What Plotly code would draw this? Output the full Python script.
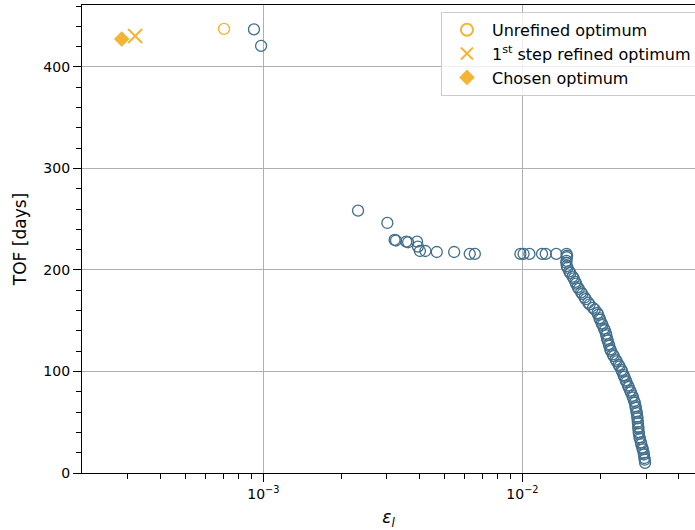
import plotly.graph_objects as go

# Pareto front of the optimisation: error eps_l vs time of flight
front_eps = [
    9.2e-4, 9.8e-4, 2.32e-3, 3.01e-3, 3.21e-3, 3.25e-3, 3.56e-3, 3.62e-3, 3.92e-3, 3.95e-3,
    4.02e-3, 4.22e-3, 4.67e-3, 5.45e-3, 6.26e-3, 6.55e-3, 9.82e-3, 1.01e-2, 1.064e-2, 1.19e-2,
    1.23e-2, 1.35e-2, 1.48e-2,
    0.014866, 0.01484, 0.01479, 0.01476, 0.01483, 0.01493, 0.01517, 0.01531, 0.01562, 0.01578,
    0.01600, 0.01610, 0.01634, 0.01651, 0.01685, 0.01702, 0.01737, 0.01754, 0.01795, 0.01816,
    0.01872, 0.01902, 0.01948, 0.01960, 0.01983, 0.01995, 0.02022, 0.02037, 0.02064, 0.02080,
    0.02101, 0.02108, 0.02123, 0.02133, 0.02154, 0.02163, 0.02185, 0.02194, 0.02232, 0.02252,
    0.02290, 0.02311, 0.02352, 0.02371, 0.02411, 0.02426, 0.02457, 0.02474, 0.02505, 0.02521,
    0.02555, 0.02571, 0.02605, 0.02623, 0.02657, 0.02671, 0.02699, 0.02714, 0.02731, 0.02738,
    0.02755, 0.02762, 0.02775, 0.02780, 0.02787, 0.02792, 0.02800, 0.02802, 0.02810, 0.02815,
    0.02830, 0.02842, 0.02865, 0.02875, 0.02901, 0.02914, 0.02937, 0.02943, 0.02956, 0.02964,
    0.02974,
]
front_tof = [
    437.0, 420.7, 258.4, 246.3, 229.6, 229.0, 227.9, 227.3, 227.9, 223.0,
    218.7, 218.7, 217.7, 217.7, 215.8, 215.8, 215.8, 215.8, 215.8, 215.8,
    215.8, 215.8, 215.8,
    214.0, 212.5, 208.9, 207.1, 203.8, 202.0, 198.6, 196.8, 193.5, 191.7,
    188.2, 186.6, 183.1, 181.4, 178.0, 176.3, 172.9, 171.2, 167.8, 166.1,
    162.7, 161.0, 157.6, 155.9, 152.5, 150.8, 147.4, 145.7, 142.3, 140.6,
    137.2, 135.5, 132.1, 130.4, 127.0, 125.3, 121.9, 120.2, 116.8, 115.1,
    111.7, 110.0, 106.6, 104.9, 101.5, 99.8, 96.4, 94.7, 91.3, 89.6,
    86.2, 84.5, 81.1, 79.4, 76.0, 74.3, 70.9, 69.2, 65.8, 64.1,
    60.7, 59.0, 55.6, 53.9, 50.5, 48.8, 45.4, 43.7, 40.3, 38.6,
    35.2, 33.5, 30.1, 28.4, 25.0, 23.3, 19.9, 18.2, 14.8, 13.1,
    10.0,
]

# Highlighted optima
unrefined_eps, unrefined_tof = [7.05e-4], [437.5]
refined_eps, refined_tof = [3.2e-4], [430.5]
chosen_eps, chosen_tof = [2.84e-4], [427.5]

x_tick_vals = [1e-3, 1e-2]
x_tick_text = ["10<sup>\u22123</sup>", "10<sup>\u22122</sup>"]
x_minor_vals = [3e-4, 4e-4, 5e-4, 6e-4, 7e-4, 8e-4, 9e-4,
                2e-3, 3e-3, 4e-3, 5e-3, 6e-3, 7e-3, 8e-3, 9e-3,
                2e-2, 3e-2, 4e-2]

BLUE = "#416F8C"
ORANGE = "#F6B433"
FONT = "DejaVu Sans"

fig = go.Figure()

fig.add_trace(go.Scatter(
    x=front_eps, y=front_tof, mode="markers", showlegend=False,
    marker=dict(symbol="circle-open", size=11, color=BLUE, line=dict(width=1.3)),
))
fig.add_trace(go.Scatter(
    x=unrefined_eps, y=unrefined_tof, mode="markers", name="Unrefined optimum",
    marker=dict(symbol="circle-open", size=11, color=ORANGE, line=dict(width=1.4)),
))
fig.add_trace(go.Scatter(
    x=refined_eps, y=refined_tof, mode="markers", name="1<sup>st</sup> step refined optimum",
    marker=dict(symbol="x-thin", size=14, color=ORANGE, line=dict(width=2, color=ORANGE)),
))
fig.add_trace(go.Scatter(
    x=chosen_eps, y=chosen_tof, mode="markers", name="Chosen optimum",
    marker=dict(symbol="diamond", size=12, color=ORANGE),
))

fig.update_layout(
    width=695, height=530,
    margin=dict(l=82, r=0, t=5, b=57, autoexpand=False),
    paper_bgcolor="white", plot_bgcolor="white",
    font=dict(family=FONT, size=14, color="black"),
    legend=dict(
        x=0.5856, y=0.9853, xanchor="left", yanchor="top",
        bgcolor="rgba(255,255,255,0.8)", bordercolor="#cccccc", borderwidth=1,
        font=dict(family=FONT, size=16, color="black"),
        itemwidth=40, tracegroupgap=0, itemsizing="constant",
    ),
)

fig.update_xaxes(
    type="log", range=[-3.700, -1.334],
    tickmode="array", tickvals=x_tick_vals, ticktext=x_tick_text,
    ticks="outside", ticklen=8, tickwidth=1.3, tickcolor="black",
    showline=True, linecolor="black", linewidth=1.3, mirror=True,
    showgrid=True, gridcolor="#b0b0b0", gridwidth=1.2, zeroline=False,
    minor=dict(tickmode="array", tickvals=x_minor_vals, ticks="outside",
               ticklen=4.5, tickwidth=1, tickcolor="black", showgrid=False),
    title=dict(text="<i>\u03b5<sub>l</sub></i>", font=dict(family=FONT, size=17), standoff=10),
)
fig.update_yaxes(
    range=[0, 461], tickmode="linear", tick0=0, dtick=100,
    ticks="outside", ticklen=8, tickwidth=1.3, tickcolor="black",
    showline=True, linecolor="black", linewidth=1.3,
    showgrid=True, gridcolor="#b0b0b0", gridwidth=1.2, zeroline=False,
    minor=dict(tick0=0, dtick=20, ticks="outside", ticklen=4.5, tickwidth=1,
               tickcolor="black", showgrid=False),
    title=dict(text="TOF [days]", font=dict(family=FONT, size=17), standoff=12),
)

fig.write_html("out.html")
